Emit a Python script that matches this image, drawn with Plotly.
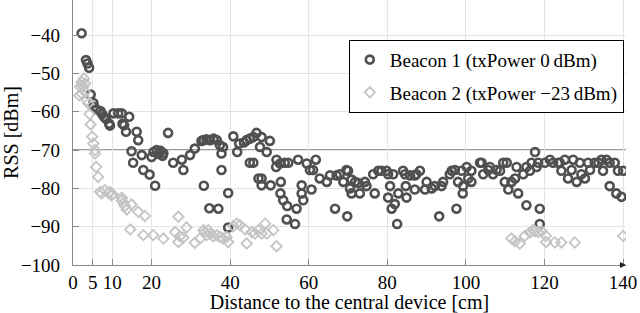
import plotly.graph_objects as go

# ---- data ----
beacon1_x = [2.2, 3.3, 3.7, 4.1, 4.5, 5.2, 5.3, 6.0, 7.0, 7.4, 7.9, 8.4, 9.2, 9.4, 10.3, 11.5, 12.4, 12.6, 13.0, 13.5,
             14.3, 16.2, 16.6, 14.9, 15.3, 17.5, 17.9, 19.5, 20.9, 20.0, 20.5, 21.3, 21.8, 22.3, 22.8, 23.0, 24.2, 25.5,
             27.7, 28.1, 29.8, 31.0, 32.7, 33.3, 34.7, 33.2, 34.0, 34.9, 35.8, 36.6, 37.4, 37.8, 38.2, 37.8, 39.5, 37.0,
             39.5, 40.8, 42.3, 41.8, 43.5, 44.2, 45.0, 45.9, 46.7, 48.0, 47.6, 49.3, 50.1, 45.0, 45.9, 47.2, 48.0, 48.0,
             50.3, 51.8, 51.7, 52.7, 53.9, 54.8, 52.9, 52.8, 53.5, 54.5, 56.9, 54.4, 56.5, 57.3, 58.2, 58.2, 58.6, 59.5,
             60.3, 61.1, 61.8, 60.7, 62.8, 64.6, 65.4, 67.1, 66.7, 68.8, 69.6, 69.8, 67.9, 70.0, 70.9, 70.5, 70.9, 71.8,
             73.0, 72.6, 74.3, 74.7, 76.8, 76.4, 77.7, 78.5, 79.8, 80.2, 81.5, 80.7, 80.2, 81.1, 81.9, 82.8, 82.5, 84.0,
             84.5, 85.8, 87.0, 88.3, 87.4, 84.7, 84.9, 87.0, 89.6, 90.0, 91.3, 92.1, 93.2, 93.8, 94.2, 95.9, 96.4, 97.2,
             98.0, 97.6, 98.9, 99.3, 99.2, 100.2, 100.6, 101.4, 101.4, 103.6, 104.4, 105.7, 104.0, 106.1, 106.9, 107.8,
             108.7, 109.5, 110.4, 109.9, 110.8, 111.6, 112.5, 112.9, 113.3, 114.6, 115.4, 116.3, 115.4, 116.7, 117.6,
             118.0, 118.4, 118.8, 118.8, 120.1, 121.4, 122.2, 123.5, 124.3, 123.9, 125.2, 126.0, 126.9, 127.3, 128.2,
             129.0, 129.4, 130.3, 131.1, 131.6, 132.8, 133.7, 134.5, 134.9, 135.8, 136.6, 136.6, 137.9, 138.3, 138.7,
             139.6, 140.0]
beacon1_y = [-39.5, -46.5, -47.4, -48.5, -55.5, -57.7, -58.7, -59.4, -59.8, -60.6, -61.3, -61.8, -63.1, -63.6, -60.4,
             -60.4, -60.4, -63.1, -63.5, -65.2, -61.3, -65.2, -67.4, -70.3, -73.3, -71.3, -75.2, -76.4, -79.3, -71.8,
             -70.5, -70.0, -71.0, -70.2, -71.5, -70.8, -65.5, -73.3, -72.5, -75.2, -71.3, -69.6, -67.6, -79.3, -85.2,
             -67.4, -67.2, -67.4, -67.0, -67.4, -68.7, -70.9, -69.2, -75.2, -81.2, -85.3, -90.2, -66.4, -68.3, -70.5,
             -68.0, -67.4, -67.0, -66.6, -65.5, -66.6, -69.2, -70.5, -67.6, -73.3, -73.3, -77.4, -77.4, -79.2, -79.2,
             -72.5, -74.4, -73.5, -73.3, -73.3, -78.3, -81.3, -83.1, -84.6, -85.3, -88.1, -89.3, -72.5, -79.2, -81.3,
             -83.1, -73.5, -75.2, -75.2, -72.5, -80.3, -77.4, -78.3, -76.6, -76.6, -85.3, -78.3, -75.2, -87.3, -76.3,
             -75.4, -77.7, -80.0, -81.3, -78.3, -81.3, -78.6, -78.3, -79.4, -81.3, -76.3, -75.4, -75.4, -75.4, -76.3,
             -76.3, -79.4, -82.4, -85.3, -84.1, -81.3, -89.3, -75.4, -76.3, -76.6, -76.6, -75.4, -76.3, -79.4, -82.4,
             -80.3, -80.3, -78.3, -80.0, -79.4, -87.3, -79.4, -78.3, -76.3, -75.4, -75.2, -78.3, -85.3, -75.4, -79.4,
             -81.3, -74.4, -77.4, -75.4, -78.3, -73.3, -76.3, -75.2, -73.3, -74.4, -76.3, -75.2, -75.4, -73.3, -73.3,
             -78.3, -80.3, -78.3, -77.4, -74.4, -81.3, -76.3, -74.4, -75.4, -84.4, -73.3, -70.5, -74.4, -73.3, -85.3,
             -89.3, -73.3, -72.5, -73.3, -73.3, -75.4, -73.3, -72.5, -77.4, -75.2, -72.5, -78.3, -73.3, -76.3, -77.4,
             -73.3, -75.2, -73.3, -73.3, -72.5, -75.4, -72.5, -73.3, -79.4, -73.3, -81.3, -75.4, -82.2, -75.4]

beacon2_x = [1.6, 1.8, 2.2, 2.6, 2.8, 3.1, 2.2, 3.1, 3.5, 3.9, 4.2, 4.5, 4.9, 5.2, 5.6, 5.6, 5.9, 6.4, 6.9, 7.3, 8.1,
             9.0, 9.4, 9.8, 10.1, 12.4, 12.4, 12.8, 13.2, 13.7, 14.9, 16.6, 18.3, 14.6, 17.9, 20.4, 23.0, 26.8, 26.0,
             27.2, 26.8, 28.1, 28.9, 31.0, 32.3, 33.6, 34.4, 33.2, 34.0, 34.9, 35.7, 36.6, 37.4, 38.2, 39.1, 39.5, 40.8,
             41.7, 42.5, 43.8, 44.2, 45.5, 46.3, 47.2, 48.0, 48.9, 49.3, 51.0, 51.8, 111.6, 112.5, 113.7, 115.0, 116.3,
             117.1, 117.6, 118.4, 119.3, 120.4, 120.4, 122.6, 124.3, 127.7, 140.0]
beacon2_y = [-55.7, -53.4, -52.2, -53.4, -51.3, -52.6, -55.2, -54.8, -57.0, -57.8, -60.6, -63.3, -66.5, -68.3, -70.0,
             -70.9, -74.4, -77.0, -80.9, -81.3, -80.5, -81.2, -80.9, -81.8, -81.5, -82.4, -83.1, -83.8, -84.6, -85.5,
             -84.2, -86.1, -87.2, -90.7, -92.2, -92.2, -93.1, -87.4, -91.4, -92.5, -94.0, -92.8, -90.2, -94.2, -93.1,
             -91.4, -90.9, -90.9, -92.2, -91.8, -92.5, -92.2, -92.7, -93.1, -92.7, -94.0, -89.9, -89.2, -89.6, -90.7,
             -94.4, -91.4, -91.8, -90.9, -91.8, -89.2, -91.8, -90.9, -95.1, -93.1, -93.8, -94.4, -92.4, -91.5, -90.9,
             -91.2, -91.4, -91.2, -92.4, -94.0, -94.1, -94.1, -94.1, -92.4]

threshold = -70
x_ticks = [0, 5, 10, 20, 40, 60, 80, 100, 120, 140]
y_ticks = [-100, -90, -80, -70, -60, -50, -40]
series_names = ["Beacon 1 (txPower 0\u2009dBm)", "Beacon 2 (txPower \u221223\u2009dBm)"]

FONT = "Liberation Serif, DejaVu Serif, serif"

fig = go.Figure()
fig.add_trace(go.Scatter(
    x=beacon1_x, y=beacon1_y, mode="markers", name=series_names[0], legendgroup="b1",
    marker=dict(symbol="circle-open", size=8, color="#505050", line=dict(width=2.6, color="#505050")),
))
fig.add_trace(go.Scatter(
    x=beacon2_x, y=beacon2_y, mode="markers", name=series_names[1], legendgroup="b2",
    marker=dict(symbol="diamond-open", size=8, color="#c4c4c4", line=dict(width=1.8, color="#c4c4c4")),
))

fig.add_hline(y=threshold, line=dict(color="#7a7a7a", width=1.6), layer="below")

fig.update_layout(
    width=640, height=313,
    margin=dict(l=73, r=14, t=0, b=48),
    plot_bgcolor="white", paper_bgcolor="white",
    font=dict(family=FONT, size=19, color="black"),
    showlegend=True,
    legend=dict(
        x=0.996, y=0.85, xanchor="right", yanchor="top",
        bordercolor="black", borderwidth=1, bgcolor="white",
        font=dict(family=FONT, size=19, color="black"), tracegroupgap=5,
        traceorder="grouped", itemwidth=30,
    ),
    xaxis=dict(
        range=[0, 140.75], tickvals=x_ticks, ticktext=[str(v) for v in x_ticks],
        showgrid=True, gridcolor="#e4e4e4", gridwidth=1, zeroline=False,
        showline=True, linecolor="#8a8a8a", linewidth=1.2,
        ticks="inside", ticklen=6, tickcolor="#8a8a8a",
        tickfont=dict(family=FONT, size=19, color="black"),
        title=dict(text="Distance to the central device [cm]",
                   font=dict(family=FONT, size=20, color="black"), standoff=0),
    ),
    yaxis=dict(
        range=[-100, -30.8], tickvals=y_ticks,
        showgrid=True, gridcolor="#e4e4e4", gridwidth=1, zeroline=False,
        showline=True, linecolor="#8a8a8a", linewidth=1.2,
        ticks="inside", ticklen=6, tickcolor="#8a8a8a",
        tickfont=dict(family=FONT, size=19, color="black"), ticklabelstandoff=8,
        title=dict(text="RSS [dBm]", font=dict(family=FONT, size=20, color="black"), standoff=4),
    ),
)

# arrow head at the end of the x axis
fig.add_annotation(x=1.0, y=0, xref="paper", yref="paper", text="", showarrow=True,
                   ax=-8, ay=0, arrowhead=2, arrowsize=1, arrowwidth=1.2, arrowcolor="#222222")

fig.write_html("out.html", config={"displayModeBar": False},
               post_script="document.body.style.margin='0';document.body.style.overflow='hidden';")
